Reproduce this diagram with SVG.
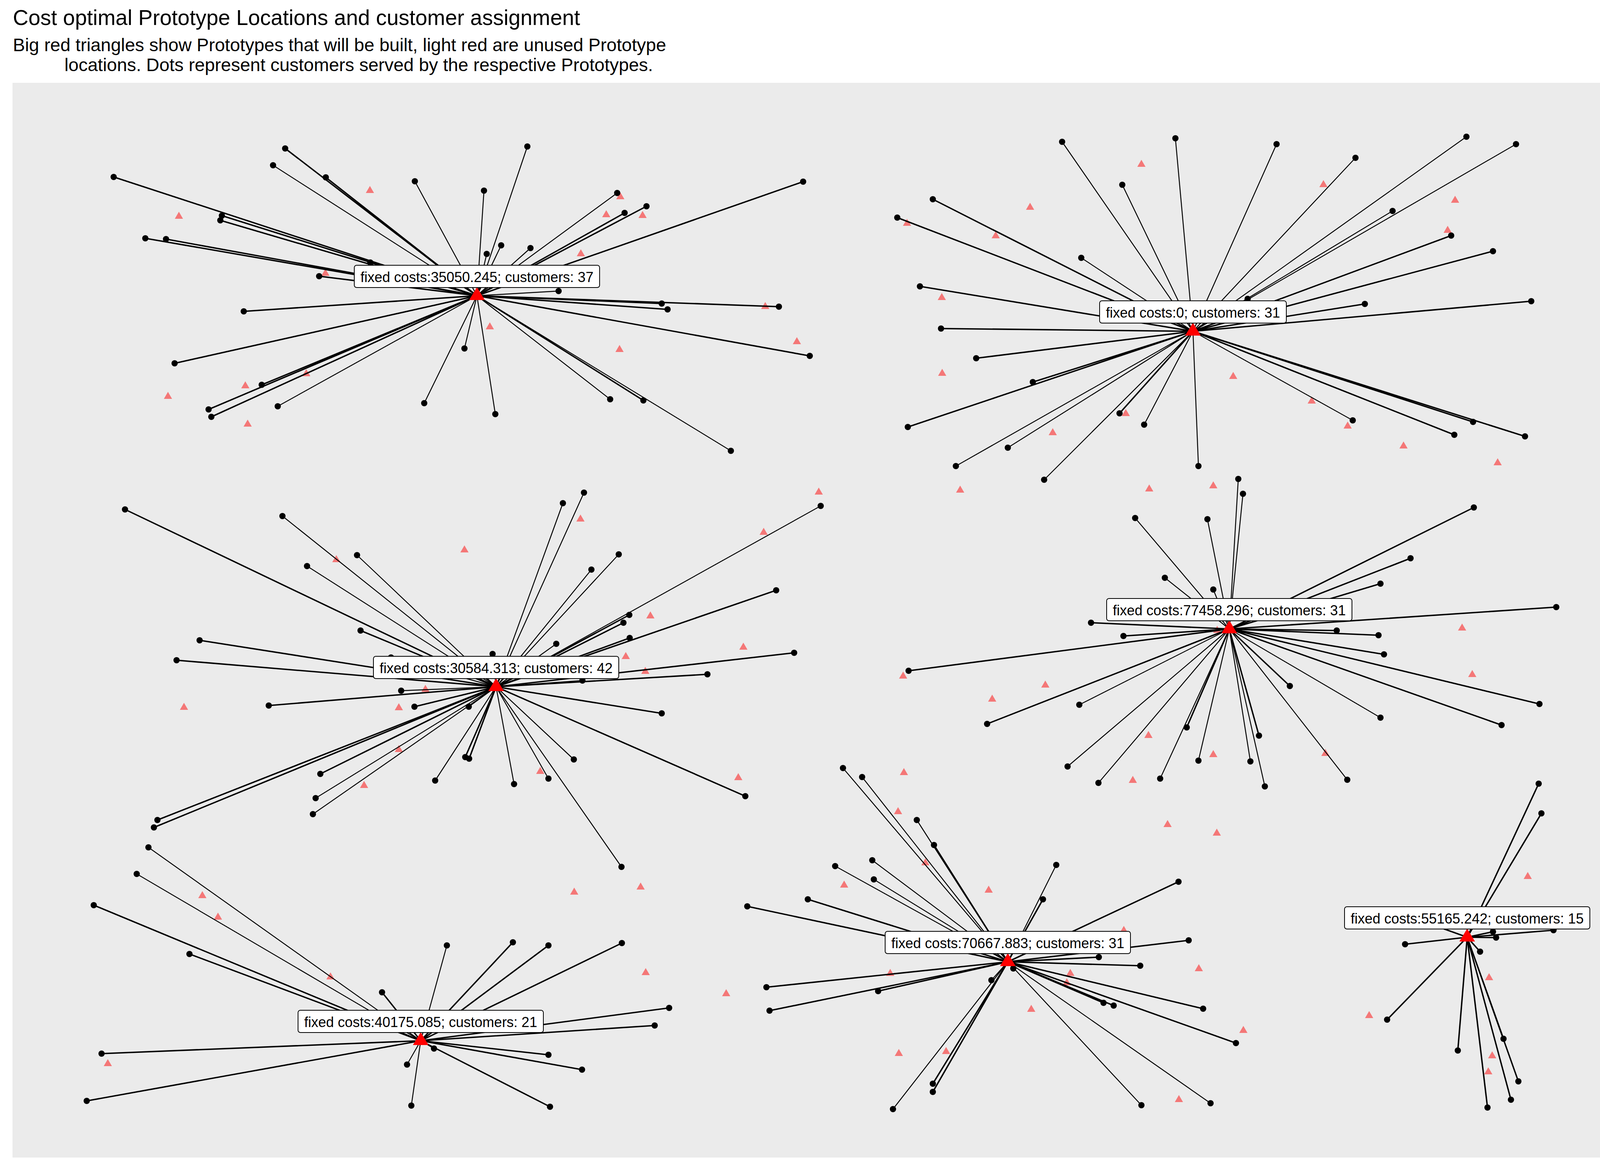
<svg xmlns="http://www.w3.org/2000/svg" xmlns:xlink="http://www.w3.org/1999/xlink" width="4200" height="3000" viewBox="0 0 4200 3000">
<style>
.ttl{font-family:"Liberation Sans",Arial,sans-serif;fill:#000}
.lbl{font-family:"Liberation Sans",Arial,sans-serif;font-size:36px;fill:#000;text-anchor:middle}
.box{fill:#fff;stroke:#000;stroke-width:2}
.thin{fill:none;stroke:#000;stroke-width:2.4}
.thick{fill:none;stroke:#000;stroke-width:3.6}
.cust circle{fill:#000}
</style>
<defs>
<path id="bt" d="M0,-22 L20,11 L-20,11 Z" fill="#FF0000"/>
<path id="lt" d="M0,-12 L10.5,6 L-10.5,6 Z" fill="#F47777"/>
</defs>
<rect width="4200" height="3000" fill="#fff"/>
<text class="ttl" x="33" y="64" font-size="55">Cost optimal Prototype Locations and customer assignment</text>
<text class="ttl" x="33" y="131" font-size="46.5">Big red triangles show Prototypes that will be built, light red are unused Prototype</text>
<text class="ttl" x="165" y="182" font-size="46.5">locations. Dots represent customers served by the respective Prototypes.</text>
<rect x="32" y="212" width="4144" height="2751" fill="#EBEBEB"/>

<g id="unused-locations">
<use xlink:href="#lt" x="947" y="488"/><use xlink:href="#lt" x="458" y="554"/><use xlink:href="#lt" x="1588" y="504"/><use xlink:href="#lt" x="1552" y="550"/><use xlink:href="#lt" x="1645" y="552"/><use xlink:href="#lt" x="1487" y="650"/><use xlink:href="#lt" x="833" y="700"/><use xlink:href="#lt" x="1959" y="785"/><use xlink:href="#lt" x="1254" y="837"/><use xlink:href="#lt" x="2040" y="875"/><use xlink:href="#lt" x="1586" y="895"/><use xlink:href="#lt" x="784" y="957"/><use xlink:href="#lt" x="628" y="988"/><use xlink:href="#lt" x="430" y="1015"/><use xlink:href="#lt" x="634" y="1086"/>
<use xlink:href="#lt" x="2922" y="421"/><use xlink:href="#lt" x="3388" y="473"/><use xlink:href="#lt" x="2637" y="531"/><use xlink:href="#lt" x="2322" y="572"/><use xlink:href="#lt" x="3725" y="513"/><use xlink:href="#lt" x="3706" y="590"/><use xlink:href="#lt" x="2549" y="604"/><use xlink:href="#lt" x="2411" y="762"/><use xlink:href="#lt" x="2412" y="956"/><use xlink:href="#lt" x="3157" y="964"/><use xlink:href="#lt" x="3358" y="1027"/><use xlink:href="#lt" x="2882" y="1059"/><use xlink:href="#lt" x="3450" y="1091"/><use xlink:href="#lt" x="2695" y="1108"/><use xlink:href="#lt" x="3593" y="1142"/><use xlink:href="#lt" x="3834" y="1185"/>
<use xlink:href="#lt" x="2458" y="1255"/><use xlink:href="#lt" x="2942" y="1252"/><use xlink:href="#lt" x="3106" y="1244"/>
<use xlink:href="#lt" x="2096" y="1260"/><use xlink:href="#lt" x="1486" y="1329"/><use xlink:href="#lt" x="1189" y="1408"/><use xlink:href="#lt" x="861" y="1433"/><use xlink:href="#lt" x="1955" y="1363"/><use xlink:href="#lt" x="1665" y="1577"/><use xlink:href="#lt" x="1903" y="1657"/><use xlink:href="#lt" x="1602" y="1681"/><use xlink:href="#lt" x="1652" y="1719"/><use xlink:href="#lt" x="1089" y="1765"/><use xlink:href="#lt" x="1021" y="1812"/><use xlink:href="#lt" x="471" y="1811"/><use xlink:href="#lt" x="1021" y="1919"/><use xlink:href="#lt" x="932" y="2011"/><use xlink:href="#lt" x="1383" y="1975"/><use xlink:href="#lt" x="1890" y="1991"/>
<use xlink:href="#lt" x="3743" y="1608"/><use xlink:href="#lt" x="2312" y="1731"/><use xlink:href="#lt" x="2676" y="1754"/><use xlink:href="#lt" x="2540" y="1790"/><use xlink:href="#lt" x="3769" y="1727"/><use xlink:href="#lt" x="3116" y="1614"/><use xlink:href="#lt" x="2940" y="1883"/><use xlink:href="#lt" x="3106" y="1932"/><use xlink:href="#lt" x="3393" y="1929"/><use xlink:href="#lt" x="2314" y="1978"/><use xlink:href="#lt" x="2900" y="1998"/><use xlink:href="#lt" x="2299" y="2078"/>
<use xlink:href="#lt" x="518" y="2293"/><use xlink:href="#lt" x="558" y="2348"/><use xlink:href="#lt" x="846" y="2501"/><use xlink:href="#lt" x="1470" y="2284"/><use xlink:href="#lt" x="1640" y="2271"/><use xlink:href="#lt" x="1653" y="2490"/><use xlink:href="#lt" x="276" y="2723"/><use xlink:href="#lt" x="1859" y="2544"/>
<use xlink:href="#lt" x="2989" y="2111"/><use xlink:href="#lt" x="3115" y="2133"/><use xlink:href="#lt" x="2369" y="2209"/><use xlink:href="#lt" x="2161" y="2266"/><use xlink:href="#lt" x="2531" y="2279"/><use xlink:href="#lt" x="2877" y="2382"/><use xlink:href="#lt" x="2279" y="2492"/><use xlink:href="#lt" x="2740" y="2492"/><use xlink:href="#lt" x="2731" y="2516"/><use xlink:href="#lt" x="3069" y="2480"/><use xlink:href="#lt" x="2640" y="2584"/><use xlink:href="#lt" x="3183" y="2638"/><use xlink:href="#lt" x="2301" y="2697"/><use xlink:href="#lt" x="2422" y="2692"/><use xlink:href="#lt" x="3018" y="2815"/>
<use xlink:href="#lt" x="3911" y="2244"/><use xlink:href="#lt" x="3812" y="2503"/><use xlink:href="#lt" x="3505" y="2600"/><use xlink:href="#lt" x="3820" y="2703"/><use xlink:href="#lt" x="3810" y="2744"/>
</g>

<g id="connectors">
<path class="thick" d="M1221,757L291,453M1221,757L730,380M1221,757L834,454M1221,757L1599,545M1221,757L1655,528M1221,757L2056,465M1221,757L568,552M1221,757L564,564M1221,757L372,610M1221,757L425,612M1221,757L948,672M1221,757L817,707M1221,757L1694,777M1221,757L1709,792M1221,757L1994,785M1221,757L624,797M1221,757L2073,911M1221,757L447,930M1221,757L1647,1025M1221,757L670,985M1221,757L534,1048M1221,757L541,1067"/>
<path class="thin" d="M1221,757L699,423M1221,757L1062,464M1221,757L1239,488M1221,757L1350,375M1221,757L1246,650M1221,757L1283,628M1221,757L1358,635M1221,757L1580,494M1221,757L1430,745M1221,757L1189,892M1221,757L1268,1060M1221,757L1086,1032M1221,757L1562,1022M1221,757L1871,1154M1221,757L711,1040"/>
<path class="thick" d="M3054,848L2388,510M3054,848L2297,557M3054,848L3715,603M3054,848L3822,643M3054,848L2355,733M3054,848L3494,778M3054,848L3920,771M3054,848L2409,841M3054,848L2499,917M3054,848L2644,978M3054,848L2324,1093M3054,848L2866,1058M3054,848L3771,1080M3054,848L3723,1113M3054,848L3904,1117"/>
<path class="thin" d="M3054,848L2719,363M3054,848L3009,354M3054,848L3268,369M3054,848L3470,404M3054,848L3754,350M3054,848L3881,369M3054,848L2873,473M3054,848L3565,540M3054,848L2768,660M3054,848L3194,765M3054,848L2929,1087M3054,848L2580,1146M3054,848L2447,1193M3054,848L2673,1228M3054,848L3068,1193M3054,848L3463,1076"/>
<path class="thick" d="M1270,1758L320,1304M1270,1758L1987,1511M1270,1758L1611,1574M1270,1758L1596,1594M1270,1758L1612,1633M1270,1758L923,1614M1270,1758L511,1639M1270,1758L452,1690M1270,1758L2033,1671M1270,1758L1811,1726M1270,1758L688,1806M1270,1758L1061,1809M1270,1758L1694,1826M1270,1758L820,1981M1270,1758L403,2099M1270,1758L394,2118M1270,1758L1191,1938M1270,1758L1201,1942M1270,1758L1908,2038"/>
<path class="thin" d="M1270,1758L723,1321M1270,1758L914,1421M1270,1758L786,1449M1270,1758L1441,1288M1270,1758L1495,1261M1270,1758L1584,1419M1270,1758L1514,1458M1270,1758L2101,1295M1270,1758L1424,1648M1270,1758L1261,1674M1270,1758L1001,1683M1270,1758L1027,1768M1270,1758L1491,1742M1270,1758L1200,1809M1270,1758L808,2043M1270,1758L801,2084M1270,1758L1114,1998M1270,1758L1316,2007M1270,1758L1404,1993M1270,1758L1469,1944M1270,1758L1591,2219"/>
<path class="thick" d="M3147,1610L3773,1299M3147,1610L3611,1429M3147,1610L3534,1494M3147,1610L3984,1554M3147,1610L2793,1594M3147,1610L2876,1628M3147,1610L3422,1614M3147,1610L3529,1626M3147,1610L3543,1675M3147,1610L2326,1717M3147,1610L3302,1756M3147,1610L2527,1853M3147,1610L3844,1856M3147,1610L3941,1802M3147,1610L3038,1862M3147,1610L3223,1883"/>
<path class="thin" d="M3147,1610L3170,1226M3147,1610L3182,1264M3147,1610L2906,1326M3147,1610L3091,1329M3147,1610L2982,1479M3147,1610L3106,1509M3147,1610L2763,1804M3147,1610L3534,1837M3147,1610L2733,1962M3147,1610L2812,2004M3147,1610L2970,1993M3147,1610L3068,1947M3147,1610L3201,1949M3147,1610L3238,2013M3147,1610L3449,1996"/>
<path class="thick" d="M1077,2664L240,2317M1077,2664L485,2442M1077,2664L978,2540M1077,2664L1313,2412M1077,2664L1404,2420M1077,2664L1592,2414M1077,2664L1713,2580M1077,2664L1676,2625M1077,2664L260,2697M1077,2664L222,2818M1077,2664L1404,2700M1077,2664L1490,2738M1077,2664L1408,2833"/>
<path class="thin" d="M1077,2664L380,2169M1077,2664L350,2237M1077,2664L1144,2420M1077,2664L1042,2725M1077,2664L1111,2684M1077,2664L1053,2830"/>
<path class="thick" d="M2580,2462L2391,2163M2580,2462L2068,2302M2580,2462L1913,2320M2580,2462L2670,2302M2580,2462L3017,2257M2580,2462L3043,2407M2580,2462L2813,2450M2580,2462L2919,2472M2580,2462L1962,2527M2580,2462L2248,2537M2580,2462L1970,2587M2580,2462L2825,2567M2580,2462L2851,2574M2580,2462L3080,2582M2580,2462L3164,2670M2580,2462L2388,2774M2580,2462L2388,2795"/>
<path class="thin" d="M2580,2462L2158,1966M2580,2462L2207,1989M2580,2462L2347,2099M2580,2462L2233,2202M2580,2462L2138,2217M2580,2462L2237,2251M2580,2462L2704,2214M2580,2462L2538,2509M2580,2462L2594,2479M2580,2462L2286,2839M2580,2462L2922,2829M2580,2462L3099,2824"/>
<path class="thick" d="M3756,2399L3939,2006M3756,2399L3946,2082M3756,2399L3597,2417M3756,2399L3822,2385M3756,2399L3830,2400M3756,2399L3977,2381M3756,2399L3789,2436M3756,2399L3551,2610M3756,2399L3732,2689M3756,2399L3849,2659M3756,2399L3887,2768M3756,2399L3868,2815M3756,2399L3808,2835M3756,2399L3636,2356"/>
</g>

<g id="customers-1" class="cust">
<circle cx="291" cy="453" r="8"/><circle cx="730" cy="380" r="8"/><circle cx="699" cy="423" r="8"/><circle cx="834" cy="454" r="8"/><circle cx="1062" cy="464" r="8"/><circle cx="1239" cy="488" r="8"/><circle cx="1350" cy="375" r="8"/><circle cx="1246" cy="650" r="8"/><circle cx="1283" cy="628" r="8"/><circle cx="1358" cy="635" r="8"/><circle cx="1580" cy="494" r="8"/><circle cx="1599" cy="545" r="8"/><circle cx="1655" cy="528" r="8"/><circle cx="2056" cy="465" r="8"/><circle cx="568" cy="552" r="8"/><circle cx="564" cy="564" r="8"/><circle cx="372" cy="610" r="8"/><circle cx="425" cy="612" r="8"/><circle cx="948" cy="672" r="8"/><circle cx="817" cy="707" r="8"/><circle cx="1430" cy="745" r="8"/><circle cx="1694" cy="777" r="8"/><circle cx="1709" cy="792" r="8"/><circle cx="1994" cy="785" r="8"/><circle cx="624" cy="797" r="8"/><circle cx="2073" cy="911" r="8"/><circle cx="447" cy="930" r="8"/><circle cx="1189" cy="892" r="8"/><circle cx="1268" cy="1060" r="8"/><circle cx="1086" cy="1032" r="8"/><circle cx="1562" cy="1022" r="8"/><circle cx="1647" cy="1025" r="8"/><circle cx="1871" cy="1154" r="8"/><circle cx="670" cy="985" r="8"/><circle cx="534" cy="1048" r="8"/><circle cx="541" cy="1067" r="8"/><circle cx="711" cy="1040" r="8"/>
</g>
<g id="customers-2" class="cust">
<circle cx="2719" cy="363" r="8"/><circle cx="3009" cy="354" r="8"/><circle cx="3268" cy="369" r="8"/><circle cx="3470" cy="404" r="8"/><circle cx="3754" cy="350" r="8"/><circle cx="3881" cy="369" r="8"/><circle cx="2873" cy="473" r="8"/><circle cx="2388" cy="510" r="8"/><circle cx="2297" cy="557" r="8"/><circle cx="3565" cy="540" r="8"/><circle cx="3715" cy="603" r="8"/><circle cx="3822" cy="643" r="8"/><circle cx="2768" cy="660" r="8"/><circle cx="2355" cy="733" r="8"/><circle cx="3194" cy="765" r="8"/><circle cx="3494" cy="778" r="8"/><circle cx="3920" cy="771" r="8"/><circle cx="2409" cy="841" r="8"/><circle cx="2499" cy="917" r="8"/><circle cx="2644" cy="978" r="8"/><circle cx="2324" cy="1093" r="8"/><circle cx="2866" cy="1058" r="8"/><circle cx="2929" cy="1087" r="8"/><circle cx="2580" cy="1146" r="8"/><circle cx="2447" cy="1193" r="8"/><circle cx="2673" cy="1228" r="8"/><circle cx="3068" cy="1193" r="8"/><circle cx="3463" cy="1076" r="8"/><circle cx="3771" cy="1080" r="8"/><circle cx="3723" cy="1113" r="8"/><circle cx="3904" cy="1117" r="8"/>
</g>
<g id="customers-3" class="cust">
<circle cx="320" cy="1304" r="8"/><circle cx="723" cy="1321" r="8"/><circle cx="914" cy="1421" r="8"/><circle cx="786" cy="1449" r="8"/><circle cx="1441" cy="1288" r="8"/><circle cx="1495" cy="1261" r="8"/><circle cx="1584" cy="1419" r="8"/><circle cx="1514" cy="1458" r="8"/><circle cx="2101" cy="1295" r="8"/><circle cx="1987" cy="1511" r="8"/><circle cx="1611" cy="1574" r="8"/><circle cx="1596" cy="1594" r="8"/><circle cx="1612" cy="1633" r="8"/><circle cx="1424" cy="1648" r="8"/><circle cx="1261" cy="1674" r="8"/><circle cx="923" cy="1614" r="8"/><circle cx="511" cy="1639" r="8"/><circle cx="452" cy="1690" r="8"/><circle cx="1001" cy="1683" r="8"/><circle cx="1027" cy="1768" r="8"/><circle cx="2033" cy="1671" r="8"/><circle cx="1811" cy="1726" r="8"/><circle cx="1491" cy="1742" r="8"/><circle cx="688" cy="1806" r="8"/><circle cx="1061" cy="1809" r="8"/><circle cx="1200" cy="1809" r="8"/><circle cx="1694" cy="1826" r="8"/><circle cx="820" cy="1981" r="8"/><circle cx="808" cy="2043" r="8"/><circle cx="801" cy="2084" r="8"/><circle cx="403" cy="2099" r="8"/><circle cx="394" cy="2118" r="8"/><circle cx="1114" cy="1998" r="8"/><circle cx="1191" cy="1938" r="8"/><circle cx="1201" cy="1942" r="8"/><circle cx="1316" cy="2007" r="8"/><circle cx="1404" cy="1993" r="8"/><circle cx="1469" cy="1944" r="8"/><circle cx="1908" cy="2038" r="8"/><circle cx="1591" cy="2219" r="8"/>
</g>
<g id="customers-4" class="cust">
<circle cx="3170" cy="1226" r="8"/><circle cx="3182" cy="1264" r="8"/><circle cx="2906" cy="1326" r="8"/><circle cx="3091" cy="1329" r="8"/><circle cx="3773" cy="1299" r="8"/><circle cx="3611" cy="1429" r="8"/><circle cx="2982" cy="1479" r="8"/><circle cx="3106" cy="1509" r="8"/><circle cx="3534" cy="1494" r="8"/><circle cx="3984" cy="1554" r="8"/><circle cx="2793" cy="1594" r="8"/><circle cx="2876" cy="1628" r="8"/><circle cx="3422" cy="1614" r="8"/><circle cx="3529" cy="1626" r="8"/><circle cx="3543" cy="1675" r="8"/><circle cx="2326" cy="1717" r="8"/><circle cx="3302" cy="1756" r="8"/><circle cx="2763" cy="1804" r="8"/><circle cx="2527" cy="1853" r="8"/><circle cx="3534" cy="1837" r="8"/><circle cx="3844" cy="1856" r="8"/><circle cx="3941" cy="1802" r="8"/><circle cx="3038" cy="1862" r="8"/><circle cx="3223" cy="1883" r="8"/><circle cx="2733" cy="1962" r="8"/><circle cx="2812" cy="2004" r="8"/><circle cx="2970" cy="1993" r="8"/><circle cx="3068" cy="1947" r="8"/><circle cx="3201" cy="1949" r="8"/><circle cx="3238" cy="2013" r="8"/><circle cx="3449" cy="1996" r="8"/>
</g>
<g id="customers-5" class="cust">
<circle cx="380" cy="2169" r="8"/><circle cx="350" cy="2237" r="8"/><circle cx="240" cy="2317" r="8"/><circle cx="485" cy="2442" r="8"/><circle cx="978" cy="2540" r="8"/><circle cx="1144" cy="2420" r="8"/><circle cx="1313" cy="2412" r="8"/><circle cx="1404" cy="2420" r="8"/><circle cx="1592" cy="2414" r="8"/><circle cx="1713" cy="2580" r="8"/><circle cx="1676" cy="2625" r="8"/><circle cx="260" cy="2697" r="8"/><circle cx="222" cy="2818" r="8"/><circle cx="1404" cy="2700" r="8"/><circle cx="1490" cy="2738" r="8"/><circle cx="1042" cy="2725" r="8"/><circle cx="1111" cy="2684" r="8"/><circle cx="1053" cy="2830" r="8"/><circle cx="1408" cy="2833" r="8"/>
</g>
<g id="customers-6" class="cust">
<circle cx="2158" cy="1966" r="8"/><circle cx="2207" cy="1989" r="8"/><circle cx="2347" cy="2099" r="8"/><circle cx="2391" cy="2163" r="8"/><circle cx="2233" cy="2202" r="8"/><circle cx="2138" cy="2217" r="8"/><circle cx="2237" cy="2251" r="8"/><circle cx="2068" cy="2302" r="8"/><circle cx="1913" cy="2320" r="8"/><circle cx="2704" cy="2214" r="8"/><circle cx="2670" cy="2302" r="8"/><circle cx="3017" cy="2257" r="8"/><circle cx="3043" cy="2407" r="8"/><circle cx="2813" cy="2450" r="8"/><circle cx="2919" cy="2472" r="8"/><circle cx="1962" cy="2527" r="8"/><circle cx="2248" cy="2537" r="8"/><circle cx="1970" cy="2587" r="8"/><circle cx="2538" cy="2509" r="8"/><circle cx="2594" cy="2479" r="8"/><circle cx="2825" cy="2567" r="8"/><circle cx="2851" cy="2574" r="8"/><circle cx="3080" cy="2582" r="8"/><circle cx="3164" cy="2670" r="8"/><circle cx="2388" cy="2774" r="8"/><circle cx="2388" cy="2795" r="8"/><circle cx="2286" cy="2839" r="8"/><circle cx="2922" cy="2829" r="8"/><circle cx="3099" cy="2824" r="8"/>
</g>
<g id="customers-7" class="cust">
<circle cx="3939" cy="2006" r="8"/><circle cx="3946" cy="2082" r="8"/><circle cx="3597" cy="2417" r="8"/><circle cx="3822" cy="2385" r="8"/><circle cx="3830" cy="2400" r="8"/><circle cx="3977" cy="2381" r="8"/><circle cx="3789" cy="2436" r="8"/><circle cx="3551" cy="2610" r="8"/><circle cx="3732" cy="2689" r="8"/><circle cx="3849" cy="2659" r="8"/><circle cx="3887" cy="2768" r="8"/><circle cx="3868" cy="2815" r="8"/><circle cx="3808" cy="2835" r="8"/><circle cx="3636" cy="2356" r="8"/>
</g>

<g id="prototype-1"><use xlink:href="#bt" x="1221" y="757"/><rect class="box" x="907" y="679" width="628" height="57" rx="6"/><text class="lbl" x="1221" y="722">fixed costs:35050.245; customers: 37</text></g>
<g id="prototype-2"><use xlink:href="#bt" x="3054" y="848"/><rect class="box" x="2815" y="770" width="478" height="57" rx="6"/><text class="lbl" x="3054" y="813">fixed costs:0; customers: 31</text></g>
<g id="prototype-3"><use xlink:href="#bt" x="1270" y="1758"/><rect class="box" x="956" y="1680" width="628" height="57" rx="6"/><text class="lbl" x="1270" y="1723">fixed costs:30584.313; customers: 42</text></g>
<g id="prototype-4"><use xlink:href="#bt" x="3147" y="1610"/><rect class="box" x="2833" y="1532" width="628" height="57" rx="6"/><text class="lbl" x="3147" y="1575">fixed costs:77458.296; customers: 31</text></g>
<g id="prototype-5"><use xlink:href="#bt" x="1077" y="2664"/><rect class="box" x="763" y="2586" width="628" height="57" rx="6"/><text class="lbl" x="1077" y="2629">fixed costs:40175.085; customers: 21</text></g>
<g id="prototype-6"><use xlink:href="#bt" x="2580" y="2462"/><rect class="box" x="2266" y="2384" width="628" height="57" rx="6"/><text class="lbl" x="2580" y="2427">fixed costs:70667.883; customers: 31</text></g>
<g id="prototype-7"><use xlink:href="#bt" x="3756" y="2399"/><rect class="box" x="3442" y="2321" width="628" height="57" rx="6"/><text class="lbl" x="3756" y="2364">fixed costs:55165.242; customers: 15</text></g>
</svg>
